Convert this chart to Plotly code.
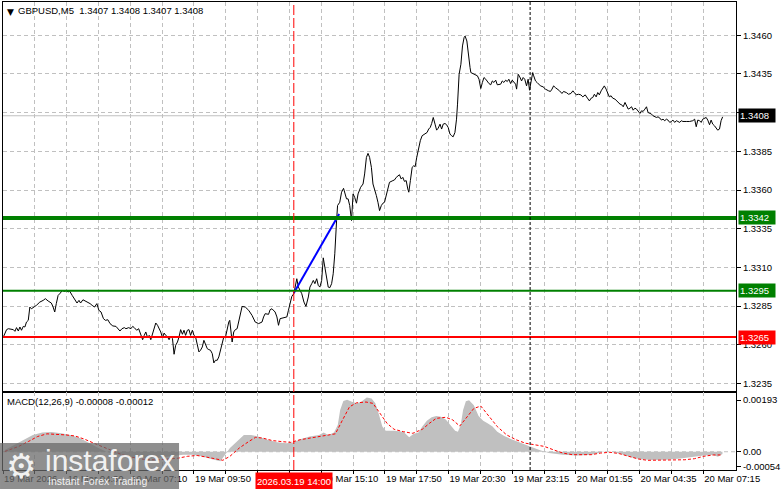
import plotly.graph_objects as go

# ---------------- DATA ----------------
# close prices (GBPUSD M5) with bar positions (5-minute bars from 19 Mar 01:50)
bars_a = [0.2,1.8,2.7,5.2,6.0,6.8,7.7,8.5,9.3,10.2,11.0,11.8,12.7,13.5,14.3,15.2,16.0,16.8,18.5,20.2,
          21.3,22.7,24.3,25.2,26.0,26.8,27.7,28.8,29.8,31.0,31.8,32.7,33.5,34.8,36.0,37.2,38.2,39.0,40.2,41.5,
          42.7,43.8,44.8,46.0,47.2,48.2,49.3,50.5,51.5,52.7,53.8,55.2,56.8,57.7,58.8,59.8,61.0,61.8,63.2,64.3,
          65.2,66.0,67.2,68.2,69.3,70.2,71.0,71.8,72.7,73.5,74.3,75.2,76.0,76.8,77.7,78.5,79.3,80.2,81.0,81.8,
          82.7,83.5,84.3,85.2,86.0,86.8,87.7,88.5,89.3,90.2,91.0,91.8,92.7,93.5,94.3,95.2,96.0,96.8,97.7,98.5,
          99.3,100.2,101.0,101.8,102.7,103.5,104.3,105.2,106.0,106.8,107.7,108.5,109.3,110.2,111.0,111.8,112.7,113.5,114.0,114.7,
          115.2,116.0,116.8,117.7]
close_a = [1.32651,1.32698,1.32704,1.32698,1.32687,1.32711,1.32689,1.32715,1.32694,1.32719,
           1.32715,1.32747,1.32758,1.32844,1.32833,1.32844,1.32848,1.32855,1.32876,1.32887,
           1.32898,1.32883,1.32870,1.32844,1.32812,1.32866,1.32919,1.32934,1.32951,1.32945,
           1.32951,1.32941,1.32947,1.32919,1.32898,1.32870,1.32887,1.32870,1.32891,1.32883,
           1.32876,1.32866,1.32855,1.32844,1.32866,1.32823,1.32812,1.32769,1.32758,1.32762,
           1.32737,1.32722,1.32719,1.32704,1.32689,1.32704,1.32711,1.32704,1.32711,1.32704,
           1.32719,1.32711,1.32694,1.32704,1.32661,1.32633,1.32661,1.32683,1.32646,1.32661,
           1.32633,1.32672,1.32719,1.32741,1.32726,1.32704,1.32683,1.32646,1.32676,1.32661,
           1.32651,1.32633,1.32655,1.32640,1.32539,1.32597,1.32618,1.32651,1.32698,1.32668,
           1.32694,1.32661,1.32694,1.32698,1.32661,1.32694,1.32661,1.32651,1.32608,1.32554,
           1.32565,1.32586,1.32629,1.32608,1.32575,1.32569,1.32565,1.32543,1.32483,1.32500,
           1.32500,1.32522,1.32565,1.32597,1.32651,1.32646,1.32711,1.32747,1.32758,1.32672,
           1.32618,1.32683,1.32698,1.32704]

bars_b = [118.5,120.2,121.8,123.5,125.2,126.8,128.5,130.2,131.0,131.8,
          133.5,134.3,135.2,136.8,137.7,138.5,139.3,141.0,142.7,143.5,
          144.3,145.2,146.2,146.8,147.7,148.5,150.2,151.3,152.3,153.5,
          154.3,155.2,156.0,156.8,157.7,158.5,159.3,160.2,161.0,161.8,
          162.7,163.5,164.3,165.2,166.0,166.8,167.7,168.2,169.3,170.2,
          171.2,171.8,172.7,173.5,174.3,175.2,176.0,176.8,177.7,178.5,
          179.8,181.0,181.8,182.7,183.5,184.3,185.2,186.0,186.8,187.7,
          188.5,189.3,190.2,191.0,191.8,192.7,193.5,194.3,196.0,196.8,
          197.7,198.5,199.3,200.2,201.0,201.8,202.7,203.5,204.0,204.8,
          205.7,206.5,207.2,208.0,208.8,209.8,210.7,211.8,213.2,214.0,
          214.8,215.5,216.3,217.2,218.0,218.8,219.7,220.5,221.3,222.2,
          223.0,223.8,224.7,225.5,226.3,227.2,228.0,228.5,229.3,230.2,
          231.0,231.8,232.3,233.2,234.0,234.8]
close_b = [1.32758,1.32848,1.32844,1.32823,1.32790,1.32747,1.32737,1.32747,1.32780,1.32801,
           1.32797,1.32827,1.32833,1.32812,1.32780,1.32726,1.32769,1.32775,1.32780,1.32823,
           1.32876,1.32913,1.32930,1.32973,1.33027,1.32973,1.32930,1.32876,1.32848,1.32909,
           1.32973,1.32995,1.33016,1.32995,1.33027,1.32984,1.32973,1.33016,1.33162,1.33102,
           1.33027,1.32973,1.32969,1.32995,1.33059,1.33188,1.33403,1.33500,1.33521,1.33586,
           1.33611,1.33575,1.33543,1.33543,1.33500,1.33403,1.33575,1.33553,1.33515,1.33575,
           1.33618,1.33639,1.33704,1.33811,1.33837,1.33811,1.33747,1.33639,1.33607,1.33564,
           1.33521,1.33467,1.33500,1.33515,1.33521,1.33564,1.33618,1.33650,1.33661,1.33665,
           1.33682,1.33693,1.33699,1.33671,1.33682,1.33656,1.33661,1.33607,1.33586,1.33661,
           1.33747,1.33757,1.33751,1.33811,1.33865,1.33919,1.33951,1.33962,1.33972,1.33994,
           1.34005,1.34030,1.34069,1.34026,1.33987,1.34000,1.34026,1.33994,1.34026,1.34030,
           1.34022,1.34005,1.33962,1.33951,1.33944,1.33972,1.34058,1.34155,1.34348,1.34413,
           1.34531,1.34585,1.34595,1.34563,1.34456,1.34391]

bars_c = [235.2,236.8,238.5,239.3,240.2,241.0,241.8,242.7,243.5,244.3,
          245.2,246.0,246.8,247.7,248.5,249.3,250.2,251.0,251.8,252.7,
          253.5,254.3,255.2,256.0,256.8,257.7,258.2,259.0,259.8,260.7,
          261.5,262.3,263.2,264.0,264.7,265.2,265.7,266.3,266.8,267.7,
          268.5,269.3,270.2,271.5,272.7,274.3,275.2,276.0,276.8,277.7,
          278.8,279.8,281.0,281.8,283.2,284.3,285.5,286.5,287.2,288.2,
          289.3,290.5,291.5,292.7,293.8,294.8,295.7,296.5,297.3,298.2,
          299.0,299.8,300.7,301.5,302.3,303.2,304.0,304.8,305.7,306.5,
          307.7,308.5,309.3,310.2,311.0,311.8,312.7,313.5,314.3,315.2,
          316.0,316.8,317.7,318.5,319.3,320.2,321.0,321.8,322.7,323.5,
          324.3,325.2,326.0,326.8,327.7,328.5,329.3,330.2,331.0,331.8,
          332.7,333.5,334.3,335.2,336.0,336.8,337.7,338.5,339.3,340.2,
          341.0,341.8,343.5,345.2,346.8,347.7,348.5,349.3,350.2,351.0,
          351.8,352.7,353.5,354.3,355.2,356.0,356.8,357.7,358.5,359.3,
          360.2,361.0,361.8]
close_c = [1.34359,1.34348,1.34338,1.34316,1.34256,1.34295,1.34327,1.34316,1.34301,1.34288,
           1.34280,1.34305,1.34295,1.34310,1.34280,1.34280,1.34284,1.34305,1.34295,1.34310,
           1.34301,1.34316,1.34288,1.34310,1.34295,1.34284,1.34252,1.34348,1.34331,1.34305,
           1.34327,1.34316,1.34273,1.34316,1.34245,1.34284,1.34338,1.34359,1.34338,1.34305,
           1.34295,1.34284,1.34273,1.34267,1.34252,1.34241,1.34237,1.34252,1.34273,1.34262,
           1.34252,1.34241,1.34224,1.34237,1.34230,1.34219,1.34224,1.34241,1.34230,1.34215,
           1.34219,1.34215,1.34202,1.34215,1.34194,1.34176,1.34194,1.34198,1.34219,1.34202,
           1.34230,1.34215,1.34241,1.34262,1.34273,1.34252,1.34230,1.34202,1.34209,1.34194,
           1.34187,1.34176,1.34166,1.34155,1.34151,1.34138,1.34166,1.34138,1.34123,1.34129,
           1.34138,1.34116,1.34129,1.34123,1.34108,1.34095,1.34112,1.34108,1.34123,1.34138,
           1.34101,1.34095,1.34091,1.34080,1.34073,1.34069,1.34073,1.34065,1.34052,1.34058,
           1.34048,1.34058,1.34052,1.34037,1.34043,1.34052,1.34037,1.34048,1.34043,1.34037,
           1.34048,1.34043,1.34043,1.34043,1.34048,1.34058,1.34009,1.34052,1.34048,1.34037,
           1.34058,1.34065,1.34069,1.34052,1.34022,1.34052,1.34026,1.34015,1.34000,1.33987,
           1.33994,1.34048,1.34073]

# MACD(12,26,9): main line (histogram) and signal line
hist_bars = [0.9,5.6,10.3,15.0,19.7,24.4,29.2,33.9,38.6,43.3,48.0,52.7,57.5,62.2,66.9,71.6,76.3,81.0,85.8,90.5,
             95.2,99.9,104.6,109.3,114.1,118.8,121.1,124.7,128.2,133.0,137.7,142.4,145.9,149.4,154.2,158.9,161.2,163.6,166.4,168.3,
             169.5,171.1,173.0,175.4,177.7,180.1,182.9,185.3,187.2,189.1,190.7,192.4,196.6,201.3,204.2,206.5,208.9,210.8,213.1,215.5,
             217.8,220.2,222.6,224.9,227.3,228.7,230.1,231.3,232.7,234.3,236.7,239.1,241.4,243.8,246.1,248.5,252.0,255.6,260.3,265.0,
             269.7,274.4,281.5,288.6,295.7,301.6,306.3,311.0,315.7,320.4,326.3,333.4,340.5,347.6,352.3,357.0,359.4,361.7]
hist_vals = [0.00007,0.00026,0.00047,0.00063,0.00072,0.00074,0.00069,0.00063,0.00051,0.00032,
             0.00014,-0.00002,-0.00011,-0.00017,-0.00021,-0.00024,-0.00024,-0.00020,-0.00015,-0.00011,
             -0.00011,-0.00017,-0.00027,-0.00036,0.00014,0.00045,0.00063,0.00063,0.00057,0.00045,
             0.00036,0.00032,0.00035,0.00047,0.00057,0.00063,0.00072,0.00063,0.00072,0.00100,
             0.00156,0.00190,0.00195,0.00187,0.00181,0.00187,0.00203,0.00199,0.00181,0.00137,
             0.00094,0.00079,0.00079,0.00075,0.00054,0.00067,0.00072,0.00094,0.00116,0.00129,
             0.00134,0.00131,0.00121,0.00100,0.00079,0.00075,0.00100,0.00156,0.00189,0.00193,
             0.00174,0.00134,0.00116,0.00106,0.00094,0.00075,0.00059,0.00047,0.00032,0.00020,
             0.00007,-0.00005,-0.00011,-0.00014,-0.00011,-0.00001,0.00000,-0.00009,-0.00021,-0.00028,
             -0.00031,-0.00030,-0.00025,-0.00017,-0.00014,-0.00012,-0.00019,-0.00008]
sig_bars = [0.9,7.9,12.7,17.4,22.1,26.8,31.5,36.2,41.0,45.7,50.4,55.1,59.8,64.5,69.3,74.0,78.7,83.4,88.1,92.8,
            97.6,102.3,107.0,110.5,114.1,118.8,123.5,127.0,130.6,135.3,140.0,144.7,149.4,154.2,158.9,163.6,167.1,170.7,174.2,177.7,
            182.5,186.0,189.5,193.1,196.6,201.3,206.0,210.8,214.3,217.8,222.6,226.1,229.6,233.2,236.7,240.2,243.8,248.5,253.2,257.9,
            262.6,267.4,272.1,276.8,281.5,286.2,290.9,295.7,300.4,305.1,309.8,314.5,319.3,324.0,331.0,338.1,342.8,347.6,352.3,357.0,
            361.7]
sig_vals = [0.00001,0.00020,0.00038,0.00057,0.00067,0.00066,0.00063,0.00059,0.00047,0.00032,
            0.00017,0.00001,-0.00011,-0.00020,-0.00027,-0.00030,-0.00030,-0.00027,-0.00024,-0.00017,
            -0.00014,-0.00020,-0.00027,-0.00032,-0.00017,0.00014,0.00038,0.00054,0.00051,0.00042,
            0.00038,0.00035,0.00045,0.00051,0.00057,0.00063,0.00067,0.00119,0.00168,0.00183,
            0.00186,0.00181,0.00143,0.00106,0.00084,0.00075,0.00069,0.00084,0.00106,0.00125,
            0.00129,0.00119,0.00096,0.00131,0.00162,0.00171,0.00137,0.00094,0.00063,0.00045,
            0.00032,0.00026,0.00020,0.00007,-0.00005,-0.00011,-0.00012,-0.00011,-0.00005,-0.00002,
            -0.00007,-0.00017,-0.00027,-0.00032,-0.00032,-0.00032,-0.00030,-0.00026,-0.00017,-0.00012,
            -0.00012]

# horizontal levels drawn on the chart
level_prices = [1.3342, 1.3295, 1.3265]
level_colors = ["#008000", "#008000", "#ff0000"]
level_widths = [4, 2, 2]
current_price = 1.3408

# blue trend segment
trend_bars = [146.2, 169.0]
trend_prices = [1.32934, 1.33446]

# vertical markers
event_bar = 146.2          # 2026.03.19 14:00
event_label = "2026.03.19 14:00"
day_sep_bar = 265.0        # 20 Mar 00:00

# axis ticks
price_ticks = [1.3235, 1.3260, 1.3285, 1.3310, 1.3335, 1.3360, 1.3385, 1.3410, 1.3435, 1.3460]
macd_ticks = [0.00193, 0.0, -0.00054]
macd_tick_text = ["0.00193", "0.00", "-0.00054"]
time_tick_bars = [0, 16, 32, 48, 64, 80, 96, 112, 128, 144, 160, 176, 192, 208, 224, 240,
                  256, 272, 288, 304, 320, 336, 352]
time_tick_text = ["19 Mar 2026", "", "19 Mar 04:30", "", "19 Mar 07:10", "", "19 Mar 09:50", "",
                  "19 Mar 12:30", "", "19 Mar 15:10", "", "19 Mar 17:50", "", "19 Mar 20:30", "",
                  "19 Mar 23:15", "", "20 Mar 01:55", "", "20 Mar 04:35", "", "20 Mar 07:15"]

title_text = "GBPUSD,M5&nbsp; 1.3407 1.3408 1.3407 1.3408"
macd_title = "MACD(12,26,9) -0.00008 -0.00012"

# ---------------- FIGURE ----------------
price_bars = bars_a + bars_b + bars_c
price_close = close_a + close_b + close_c

W, H = 781, 489
ML, MR, MT, MB = 3, 41, 1, 19
PW, PH = W - ML - MR, H - MT - MB
split = (470 - 392) / PH
X_RANGE = [0, 368.5]

def px_x(px):
    return (px - ML) / PW

def px_y(py):
    return (H - MB - py) / PH

FONT = "Liberation Sans"
GRID = "#c0c0c0"

fig = go.Figure()

fig.add_trace(go.Scatter(x=hist_bars, y=hist_vals, mode="lines", fill="tozeroy",
                         fillcolor="#c0c0c0", line=dict(width=0, color="#c0c0c0"),
                         xaxis="x2", yaxis="y2", hoverinfo="skip"))
fig.add_trace(go.Scatter(x=sig_bars, y=sig_vals, mode="lines",
                         line=dict(color="#ff0000", width=1, dash="3px,2px"),
                         xaxis="x2", yaxis="y2", hoverinfo="skip"))
fig.add_trace(go.Scatter(x=price_bars, y=price_close, mode="lines",
                         line=dict(color="black", width=1), xaxis="x", yaxis="y", hoverinfo="skip"))
fig.add_trace(go.Scatter(x=trend_bars, y=trend_prices, mode="lines",
                         line=dict(color="#0000ff", width=2), xaxis="x", yaxis="y", hoverinfo="skip"))

shapes = []
shapes.append(dict(type="line", xref="x domain", x0=0, x1=1, yref="y", y0=current_price, y1=current_price,
                   line=dict(color="#c0c0c0", width=1), layer="below"))
shapes.append(dict(type="line", xref="x2 domain", x0=0, x1=1, yref="y2", y0=0, y1=0,
                   line=dict(color=GRID, width=1, dash="4px,3px"), layer="below"))
for p, c, w in zip(level_prices, level_colors, level_widths):
    shapes.append(dict(type="line", xref="x domain", x0=0, x1=1, yref="y", y0=p, y1=p,
                       line=dict(color=c, width=w), layer="above"))
shapes.append(dict(type="line", xref="x", x0=event_bar, x1=event_bar, yref="paper", y0=0, y1=1,
                   line=dict(color="#ff0000", width=1, dash="10px,3px"), layer="above"))
shapes.append(dict(type="line", xref="x", x0=day_sep_bar, x1=day_sep_bar, yref="paper", y0=0, y1=1,
                   line=dict(color="black", width=1, dash="3px,2px"), layer="above"))
shapes.append(dict(type="rect", xref="paper", yref="paper", x0=px_x(0), x1=px_x(180),
                   y0=px_y(489), y1=px_y(443), fillcolor="rgba(105,105,105,0.75)",
                   line=dict(width=0), layer="above"))

annotations = []
annotations.append(dict(xref="paper", yref="paper", x=px_x(5), y=px_y(11), xanchor="left", yanchor="middle",
                        text="▼", showarrow=False, font=dict(size=9, color="black", family="DejaVu Sans")))
annotations.append(dict(xref="paper", yref="paper", x=px_x(16), y=px_y(10), xanchor="left", yanchor="middle",
                        text=title_text, showarrow=False, font=dict(size=9.5, color="black", family=FONT)))
annotations.append(dict(xref="paper", yref="paper", x=px_x(5), y=px_y(401), xanchor="left", yanchor="middle",
                        text=macd_title, showarrow=False, font=dict(size=9.5, color="black", family=FONT)))
for p, c in zip([current_price] + level_prices, ["black"] + level_colors):
    annotations.append(dict(xref="paper", x=1, xanchor="left", xshift=2, yref="y", y=p, yanchor="middle",
                            text=f"{p:.4f}", showarrow=False, bgcolor=c, width=34, height=11,
                            align="left", borderpad=1,
                            font=dict(size=9.5, color="white", family=FONT)))
annotations.append(dict(xref="x2", x=event_bar, xanchor="center", yref="paper", y=0, yanchor="top",
                        yshift=-2, text=event_label, showarrow=False, bgcolor="#ff0000",
                        height=14, borderpad=1, font=dict(size=9.5, color="white", family=FONT)))
annotations.append(dict(xref="paper", yref="paper", x=px_x(21), y=px_y(466), xanchor="center", yanchor="middle",
                        text="⚙", showarrow=False, font=dict(size=34, color="rgba(255,255,255,0.9)", family="DejaVu Sans")))
annotations.append(dict(xref="paper", yref="paper", x=px_x(43), y=px_y(460), xanchor="left", yanchor="middle",
                        text="instaforex", showarrow=False, font=dict(size=30, color="rgba(255,255,255,0.9)", family=FONT)))
annotations.append(dict(xref="paper", yref="paper", x=px_x(46), y=px_y(481), xanchor="left", yanchor="middle",
                        text="Instant Forex Trading", showarrow=False, font=dict(size=10.5, color="rgba(255,255,255,0.9)", family=FONT)))

axis_common = dict(showline=True, linecolor="black", linewidth=1, mirror=True, zeroline=False)

fig.update_layout(
    width=W, height=H, margin=dict(l=ML, r=MR, t=MT, b=MB, pad=0),
    paper_bgcolor="white", plot_bgcolor="white", showlegend=False,
    font=dict(family=FONT, size=9.5, color="black"),
    hovermode=False,
    xaxis=dict(domain=[0, 1], anchor="y", range=X_RANGE, tickvals=time_tick_bars, showticklabels=False,
               ticks="", showgrid=True, gridcolor=GRID, griddash="4px,3px", gridwidth=1, **axis_common),
    yaxis=dict(domain=[split, 1], anchor="x", side="right", range=[1.32294, 1.34815],
               tickvals=price_ticks, ticktext=[f"{t:.4f}" for t in price_ticks],
               ticks="outside", ticklen=4, tickcolor="black", showgrid=True, gridcolor=GRID,
               griddash="4px,3px", gridwidth=1, **axis_common),
    xaxis2=dict(domain=[0, 1], anchor="y2", range=X_RANGE, matches="x", tickvals=time_tick_bars,
                ticktext=time_tick_text, ticklabelposition="outside right", ticks="outside", ticklen=3,
                tickcolor="black", showgrid=True, gridcolor=GRID, griddash="4px,3px", gridwidth=1,
                tickangle=0, **axis_common),
    yaxis2=dict(domain=[0, split], anchor="x2", side="right", range=[-0.000683, 0.002229],
                tickvals=macd_ticks, ticktext=macd_tick_text, ticks="outside", ticklen=4,
                tickcolor="black", showgrid=False, **axis_common),
    shapes=shapes, annotations=annotations,
)

fig.write_html("out.html", config={"displayModeBar": False, "staticPlot": True},
               post_script="document.body.style.margin='0';document.body.style.overflow='hidden';")
